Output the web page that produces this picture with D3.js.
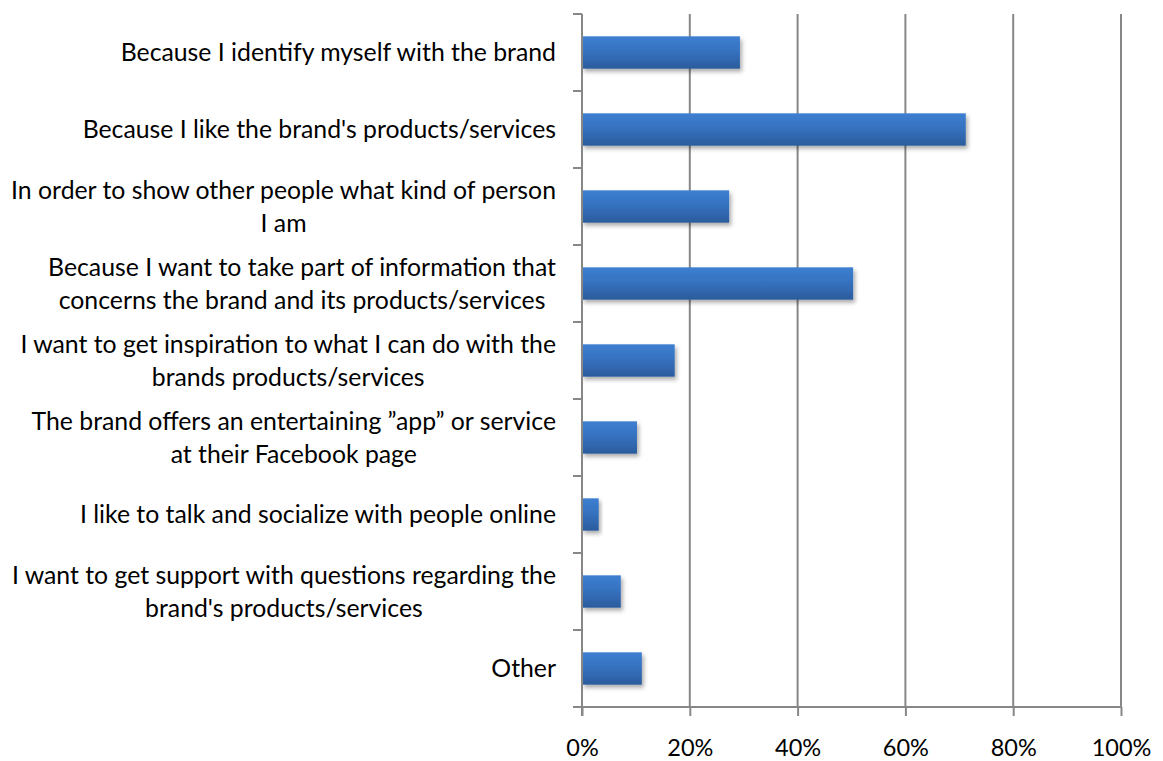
<!DOCTYPE html>
<html>
<head>
<meta charset="utf-8">
<script src="https://cdn.jsdelivr.net/npm/d3@7"></script>
<style>
  body { margin: 0; background: #fff; }
  svg { display: block; }
  text { font-family: Lato, "Open Sans", sans-serif; fill: #000; }
</style>
</head>
<body>
<svg id="chart" width="1163" height="761"></svg>
<script>
// Survey reasons, top to bottom; each entry is the list of wrapped lines
const categories = [
  ["Because I identify myself with the brand"],
  ["Because I like the brand's products/services"],
  ["In order to show other people what kind of person", "I am"],
  ["Because I want to take part of information that", "concerns the brand and its products/services"],
  ["I want to get inspiration to what I can do with the", "brands products/services"],
  ["The brand offers an entertaining \u201dapp\u201d or service", "at their Facebook page"],
  ["I like to talk and socialize with people online"],
  ["I want to get support with questions regarding the", "brand's products/services"],
  ["Other"]
];
// Share of respondents (%)
const values = [29.3, 71.2, 27.3, 50.3, 17.2, 10.2, 3.1, 7.2, 11.1];
const tickValues = [0, 20, 40, 60, 80, 100];
const tickLabels = ["0%", "20%", "40%", "60%", "80%", "100%"];

const W = 1163, H = 761;
const margin = { top: 14, right: 42, bottom: 54, left: 582 };
const plotLeft = margin.left, plotRight = W - margin.right;
const plotTop = margin.top, plotBottom = H - margin.bottom;
const axisColor = "#878787";
const tickLen = 9;

const svg = d3.select("#chart");

const x = d3.scaleLinear().domain([0, 100]).range([plotLeft, plotRight]);
const y = d3.scaleBand()
  .domain(d3.range(categories.length))
  .range([plotTop, plotBottom])
  .paddingInner(0.58)
  .paddingOuter(0.29);

// Bar fill and soft shadow
const defs = svg.append("defs");
const grad = defs.append("linearGradient")
  .attr("id", "barFill").attr("x1", 0).attr("y1", 0).attr("x2", 0).attr("y2", 1);
grad.append("stop").attr("offset", "0%").attr("stop-color", "#3d7fd1");
grad.append("stop").attr("offset", "45%").attr("stop-color", "#3672c0");
grad.append("stop").attr("offset", "100%").attr("stop-color", "#2b5b9c");

const shadow = defs.append("filter").attr("id", "barShadow")
  .attr("x", "-10%").attr("y", "-30%").attr("width", "130%").attr("height", "180%");
shadow.append("feDropShadow")
  .attr("dx", 2).attr("dy", 3).attr("stdDeviation", 2.2)
  .attr("flood-color", "#000").attr("flood-opacity", 0.33);

// Vertical gridlines
svg.append("g").selectAll("line")
  .data(tickValues.filter(d => d > 0))
  .join("line")
  .attr("x1", d => x(d)).attr("x2", d => x(d))
  .attr("y1", plotTop).attr("y2", plotBottom)
  .attr("stroke", axisColor).attr("stroke-width", 2);

// Bars
svg.append("g").selectAll("rect")
  .data(values)
  .join("rect")
  .attr("x", x(0))
  .attr("y", (d, i) => y(i))
  .attr("width", d => x(d) - x(0))
  .attr("height", y.bandwidth())
  .attr("fill", "url(#barFill)")
  .attr("filter", "url(#barShadow)");

// Category axis: line plus ticks on band boundaries
const step = y.step();
const boundaries = d3.range(categories.length + 1).map(i => plotTop + i * step);
const yAxis = svg.append("g");
yAxis.append("line")
  .attr("x1", plotLeft).attr("x2", plotLeft)
  .attr("y1", plotTop).attr("y2", plotBottom + tickLen)
  .attr("stroke", axisColor).attr("stroke-width", 2);
yAxis.selectAll("line.tick")
  .data(boundaries)
  .join("line")
  .attr("class", "tick")
  .attr("x1", plotLeft - tickLen).attr("x2", plotLeft)
  .attr("y1", d => d).attr("y2", d => d)
  .attr("stroke", axisColor).attr("stroke-width", 2);

// Value axis
const xAxis = svg.append("g")
  .attr("transform", `translate(0,${plotBottom})`)
  .call(d3.axisBottom(x)
    .tickValues(tickValues)
    .tickFormat((d, i) => tickLabels[i])
    .tickSizeInner(tickLen)
    .tickSizeOuter(0)
    .tickPadding(23));
xAxis.select(".domain").remove();
xAxis.append("line")
  .attr("x1", plotLeft - tickLen).attr("x2", plotRight)
  .attr("y1", 0).attr("y2", 0)
  .attr("stroke", axisColor).attr("stroke-width", 2);
xAxis.selectAll(".tick line").attr("stroke", axisColor).attr("stroke-width", 2);
xAxis.selectAll(".tick text")
  .attr("font-family", "Lato, 'Open Sans', sans-serif")
  .attr("font-size", 23.5)
  .attr("fill", "#000");

// Category labels: lines centred on each other, block right-aligned to the axis
const labelRight = 556;
const lineGap = 32.5;
const labels = svg.append("g").attr("font-size", 24.8);
categories.forEach((lines, i) => {
  const g = labels.append("g");
  const cy = y(i) + y.bandwidth() / 2;
  const texts = lines.map((line, k) =>
    g.append("text")
      .attr("y", cy + (k - (lines.length - 1) / 2) * lineGap)
      .attr("dy", "0.36em")
      .attr("text-anchor", "middle")
      .text(line));
  const maxW = d3.max(texts, t => t.node().getComputedTextLength());
  texts.forEach(t => t.attr("x", labelRight - maxW / 2));
});
</script>
</body>
</html>
